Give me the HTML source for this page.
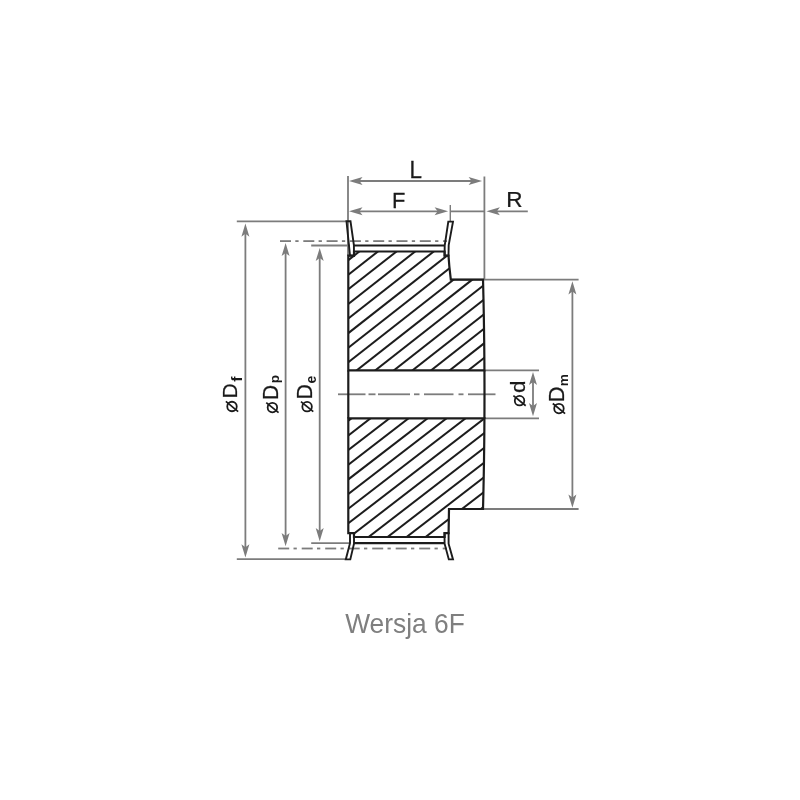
<!DOCTYPE html>
<html><head><meta charset="utf-8"><style>
html,body{margin:0;padding:0;background:#fff;}
svg{display:block;}
.wrap{will-change:transform;width:800px;height:800px;}
text{font-family:"Liberation Sans",sans-serif;}
</style></head><body><div class="wrap">
<svg width="800" height="800" viewBox="0 0 800 800">
<rect width="800" height="800" fill="#fff"/>
<line x1="348" y1="176" x2="348" y2="256" stroke="#7c7c7c" stroke-width="1.8"/>
<line x1="484.4" y1="176.5" x2="484.4" y2="280" stroke="#7c7c7c" stroke-width="1.8"/>
<line x1="356" y1="181" x2="475" y2="181" stroke="#7c7c7c" stroke-width="1.8"/>
<polygon points="349.00,181.00 362.50,177.00 359.50,181.00 362.50,185.00" fill="#7c7c7c"/>
<polygon points="482.10,181.00 468.60,185.00 471.60,181.00 468.60,177.00" fill="#7c7c7c"/>
<line x1="356" y1="211.3" x2="441" y2="211.3" stroke="#7c7c7c" stroke-width="1.8"/>
<polygon points="349.00,211.30 362.50,207.30 359.50,211.30 362.50,215.30" fill="#7c7c7c"/>
<polygon points="448.10,211.30 434.60,215.30 437.60,211.30 434.60,207.30" fill="#7c7c7c"/>
<line x1="450.3" y1="205" x2="450.3" y2="221" stroke="#7c7c7c" stroke-width="1.4"/>
<line x1="450.3" y1="211.3" x2="484.4" y2="211.3" stroke="#7c7c7c" stroke-width="1.8"/>
<line x1="494" y1="211.3" x2="527.8" y2="211.3" stroke="#7c7c7c" stroke-width="1.8"/>
<polygon points="486.40,211.30 499.90,207.30 496.90,211.30 499.90,215.30" fill="#7c7c7c"/>
<line x1="236.8" y1="221.3" x2="346.5" y2="221.3" stroke="#7c7c7c" stroke-width="1.8"/>
<line x1="311.2" y1="245.5" x2="350" y2="245.5" stroke="#7c7c7c" stroke-width="1.8"/>
<line x1="236.8" y1="559.2" x2="346" y2="559.2" stroke="#7c7c7c" stroke-width="1.8"/>
<line x1="311.2" y1="543.1" x2="350" y2="543.1" stroke="#7c7c7c" stroke-width="1.8"/>
<line x1="245.4" y1="229.60000000000002" x2="245.4" y2="551.5" stroke="#7c7c7c" stroke-width="1.8"/>
<polygon points="245.40,223.60 249.40,236.80 245.40,233.80 241.40,236.80" fill="#7c7c7c"/>
<polygon points="245.40,557.50 241.40,544.30 245.40,547.30 249.40,544.30" fill="#7c7c7c"/>
<line x1="285.6" y1="248.9" x2="285.6" y2="540.3000000000001" stroke="#7c7c7c" stroke-width="1.8"/>
<polygon points="285.60,242.90 289.60,256.10 285.60,253.10 281.60,256.10" fill="#7c7c7c"/>
<polygon points="285.60,546.30 281.60,533.10 285.60,536.10 289.60,533.10" fill="#7c7c7c"/>
<line x1="319.7" y1="253.9" x2="319.7" y2="535.3000000000001" stroke="#7c7c7c" stroke-width="1.8"/>
<polygon points="319.70,247.90 323.70,261.10 319.70,258.10 315.70,261.10" fill="#7c7c7c"/>
<polygon points="319.70,541.30 315.70,528.10 319.70,531.10 323.70,528.10" fill="#7c7c7c"/>
<line x1="280" y1="241.1" x2="291" y2="241.1" stroke="#7c7c7c" stroke-width="1.8"/>
<line x1="295.3" y1="241.1" x2="298.6" y2="241.1" stroke="#7c7c7c" stroke-width="1.8"/>
<line x1="303.3" y1="241.1" x2="314.3" y2="241.1" stroke="#7c7c7c" stroke-width="1.8"/>
<line x1="318.6" y1="241.1" x2="321.90000000000003" y2="241.1" stroke="#7c7c7c" stroke-width="1.8"/>
<line x1="326.6" y1="241.1" x2="337.6" y2="241.1" stroke="#7c7c7c" stroke-width="1.8"/>
<line x1="341.90000000000003" y1="241.1" x2="345.20000000000005" y2="241.1" stroke="#7c7c7c" stroke-width="1.8"/>
<line x1="349.90000000000003" y1="241.1" x2="360.90000000000003" y2="241.1" stroke="#7c7c7c" stroke-width="1.8"/>
<line x1="365.20000000000005" y1="241.1" x2="368.50000000000006" y2="241.1" stroke="#7c7c7c" stroke-width="1.8"/>
<line x1="373.20000000000005" y1="241.1" x2="384.20000000000005" y2="241.1" stroke="#7c7c7c" stroke-width="1.8"/>
<line x1="388.50000000000006" y1="241.1" x2="391.80000000000007" y2="241.1" stroke="#7c7c7c" stroke-width="1.8"/>
<line x1="396.50000000000006" y1="241.1" x2="407.50000000000006" y2="241.1" stroke="#7c7c7c" stroke-width="1.8"/>
<line x1="411.80000000000007" y1="241.1" x2="415.1000000000001" y2="241.1" stroke="#7c7c7c" stroke-width="1.8"/>
<line x1="419.80000000000007" y1="241.1" x2="430.80000000000007" y2="241.1" stroke="#7c7c7c" stroke-width="1.8"/>
<line x1="435.1000000000001" y1="241.1" x2="438.4000000000001" y2="241.1" stroke="#7c7c7c" stroke-width="1.8"/>
<line x1="443.1000000000001" y1="241.1" x2="447" y2="241.1" stroke="#7c7c7c" stroke-width="1.8"/>
<line x1="278.2" y1="548.5" x2="289.2" y2="548.5" stroke="#7c7c7c" stroke-width="1.8"/>
<line x1="293.5" y1="548.5" x2="296.8" y2="548.5" stroke="#7c7c7c" stroke-width="1.8"/>
<line x1="301.7" y1="548.5" x2="312.7" y2="548.5" stroke="#7c7c7c" stroke-width="1.8"/>
<line x1="317.0" y1="548.5" x2="320.3" y2="548.5" stroke="#7c7c7c" stroke-width="1.8"/>
<line x1="325.2" y1="548.5" x2="336.2" y2="548.5" stroke="#7c7c7c" stroke-width="1.8"/>
<line x1="340.5" y1="548.5" x2="343.8" y2="548.5" stroke="#7c7c7c" stroke-width="1.8"/>
<line x1="348.7" y1="548.5" x2="359.7" y2="548.5" stroke="#7c7c7c" stroke-width="1.8"/>
<line x1="364.0" y1="548.5" x2="367.3" y2="548.5" stroke="#7c7c7c" stroke-width="1.8"/>
<line x1="372.2" y1="548.5" x2="383.2" y2="548.5" stroke="#7c7c7c" stroke-width="1.8"/>
<line x1="387.5" y1="548.5" x2="390.8" y2="548.5" stroke="#7c7c7c" stroke-width="1.8"/>
<line x1="395.7" y1="548.5" x2="406.7" y2="548.5" stroke="#7c7c7c" stroke-width="1.8"/>
<line x1="411.0" y1="548.5" x2="414.3" y2="548.5" stroke="#7c7c7c" stroke-width="1.8"/>
<line x1="419.2" y1="548.5" x2="430.2" y2="548.5" stroke="#7c7c7c" stroke-width="1.8"/>
<line x1="434.5" y1="548.5" x2="437.8" y2="548.5" stroke="#7c7c7c" stroke-width="1.8"/>
<line x1="442.7" y1="548.5" x2="447" y2="548.5" stroke="#7c7c7c" stroke-width="1.8"/>
<line x1="338" y1="394.3" x2="365.5" y2="394.3" stroke="#7c7c7c" stroke-width="1.8"/>
<line x1="368.5" y1="394.3" x2="375.5" y2="394.3" stroke="#7c7c7c" stroke-width="1.8"/>
<line x1="378" y1="394.3" x2="410" y2="394.3" stroke="#7c7c7c" stroke-width="1.8"/>
<line x1="414" y1="394.3" x2="419.5" y2="394.3" stroke="#7c7c7c" stroke-width="1.8"/>
<line x1="424" y1="394.3" x2="453.5" y2="394.3" stroke="#7c7c7c" stroke-width="1.8"/>
<line x1="458.5" y1="394.3" x2="463.5" y2="394.3" stroke="#7c7c7c" stroke-width="1.8"/>
<line x1="468" y1="394.3" x2="495.5" y2="394.3" stroke="#7c7c7c" stroke-width="1.8"/>
<line x1="451" y1="279.7" x2="578.6" y2="279.7" stroke="#7c7c7c" stroke-width="1.8"/>
<line x1="483" y1="509" x2="578.6" y2="509" stroke="#7c7c7c" stroke-width="1.8"/>
<line x1="572.4" y1="287.3" x2="572.4" y2="501.7" stroke="#7c7c7c" stroke-width="1.8"/>
<polygon points="572.40,281.30 576.40,294.50 572.40,291.50 568.40,294.50" fill="#7c7c7c"/>
<polygon points="572.40,507.70 568.40,494.50 572.40,497.50 576.40,494.50" fill="#7c7c7c"/>
<line x1="484" y1="370.3" x2="539" y2="370.3" stroke="#7c7c7c" stroke-width="1.8"/>
<line x1="484" y1="418.4" x2="539" y2="418.4" stroke="#7c7c7c" stroke-width="1.8"/>
<line x1="533" y1="377.90000000000003" x2="533" y2="410.3" stroke="#7c7c7c" stroke-width="1.8"/>
<polygon points="533.00,371.90 537.00,385.10 533.00,382.10 529.00,385.10" fill="#7c7c7c"/>
<polygon points="533.00,416.30 529.00,403.10 533.00,406.10 537.00,403.10" fill="#7c7c7c"/>
<defs><clipPath id="ct"><polygon points="348.3,255.6 354,255.6 354,251.5 444.6,251.5 444.6,255.6 448.5,255.6 449.3,266 450.8,279.7 483.02,279.7 483.21,287.26 483.38,294.82 483.55,302.38 483.7,309.93 483.84,317.49 483.96,325.05 484.07,332.61 484.17,340.17 484.26,347.72 484.33,355.28 484.39,362.84 484.44,370.4 348.3,370.4"/></clipPath><clipPath id="cb"><polygon points="348.3,418.4 484.43,418.4 484.38,425.95 484.32,433.5 484.25,441.05 484.16,448.6 484.06,456.15 483.95,463.7 483.82,471.25 483.68,478.8 483.53,486.35 483.37,493.9 483.19,501.45 483.0,509.0 449,509 448.6,533.1 444.6,533.1 444.6,537 354,537 354,533.1 348.3,533.1"/></clipPath></defs>
<g stroke="#1c1c1c" stroke-width="2.0" clip-path="url(#ct)"><line x1="340" y1="222.87" x2="500" y2="97.27"/><line x1="340" y1="237.47" x2="500" y2="111.87"/><line x1="340" y1="252.07" x2="500" y2="126.47"/><line x1="340" y1="266.67" x2="500" y2="141.07"/><line x1="340" y1="281.27" x2="500" y2="155.67"/><line x1="340" y1="295.87" x2="500" y2="170.27"/><line x1="340" y1="310.47" x2="500" y2="184.87"/><line x1="340" y1="325.07" x2="500" y2="199.47"/><line x1="340" y1="339.67" x2="500" y2="214.07"/><line x1="340" y1="354.27" x2="500" y2="228.67"/><line x1="340" y1="368.87" x2="500" y2="243.27"/><line x1="340" y1="383.47" x2="500" y2="257.87"/><line x1="340" y1="398.07" x2="500" y2="272.47"/><line x1="340" y1="412.67" x2="500" y2="287.07"/><line x1="340" y1="427.27" x2="500" y2="301.67"/><line x1="340" y1="441.87" x2="500" y2="316.27"/><line x1="340" y1="456.47" x2="500" y2="330.87"/><line x1="340" y1="471.07" x2="500" y2="345.47"/><line x1="340" y1="485.67" x2="500" y2="360.07"/><line x1="340" y1="500.27" x2="500" y2="374.67"/><line x1="340" y1="514.87" x2="500" y2="389.27"/><line x1="340" y1="529.47" x2="500" y2="403.87"/><line x1="340" y1="544.07" x2="500" y2="418.47"/><line x1="340" y1="558.67" x2="500" y2="433.07"/><line x1="340" y1="573.27" x2="500" y2="447.67"/><line x1="340" y1="587.87" x2="500" y2="462.27"/><line x1="340" y1="602.47" x2="500" y2="476.87"/><line x1="340" y1="617.07" x2="500" y2="491.47"/><line x1="340" y1="631.67" x2="500" y2="506.07"/><line x1="340" y1="646.27" x2="500" y2="520.67"/><line x1="340" y1="660.87" x2="500" y2="535.27"/><line x1="340" y1="675.47" x2="500" y2="549.87"/><line x1="340" y1="690.07" x2="500" y2="564.47"/><line x1="340" y1="704.67" x2="500" y2="579.07"/><line x1="340" y1="719.27" x2="500" y2="593.67"/><line x1="340" y1="733.87" x2="500" y2="608.27"/><line x1="340" y1="748.47" x2="500" y2="622.87"/><line x1="340" y1="763.07" x2="500" y2="637.47"/><line x1="340" y1="777.67" x2="500" y2="652.07"/><line x1="340" y1="792.27" x2="500" y2="666.67"/><line x1="340" y1="806.87" x2="500" y2="681.27"/><line x1="340" y1="821.47" x2="500" y2="695.87"/><line x1="340" y1="836.07" x2="500" y2="710.47"/><line x1="340" y1="850.67" x2="500" y2="725.07"/><line x1="340" y1="865.27" x2="500" y2="739.67"/><line x1="340" y1="879.87" x2="500" y2="754.27"/><line x1="340" y1="894.47" x2="500" y2="768.87"/><line x1="340" y1="909.07" x2="500" y2="783.47"/></g>
<g stroke="#1c1c1c" stroke-width="2.0" clip-path="url(#cb)"><line x1="340" y1="222.10" x2="500" y2="98.74"/><line x1="340" y1="236.75" x2="500" y2="113.39"/><line x1="340" y1="251.40" x2="500" y2="128.04"/><line x1="340" y1="266.05" x2="500" y2="142.69"/><line x1="340" y1="280.70" x2="500" y2="157.34"/><line x1="340" y1="295.35" x2="500" y2="171.99"/><line x1="340" y1="310.00" x2="500" y2="186.64"/><line x1="340" y1="324.65" x2="500" y2="201.29"/><line x1="340" y1="339.30" x2="500" y2="215.94"/><line x1="340" y1="353.95" x2="500" y2="230.59"/><line x1="340" y1="368.60" x2="500" y2="245.24"/><line x1="340" y1="383.25" x2="500" y2="259.89"/><line x1="340" y1="397.90" x2="500" y2="274.54"/><line x1="340" y1="412.55" x2="500" y2="289.19"/><line x1="340" y1="427.20" x2="500" y2="303.84"/><line x1="340" y1="441.85" x2="500" y2="318.49"/><line x1="340" y1="456.50" x2="500" y2="333.14"/><line x1="340" y1="471.15" x2="500" y2="347.79"/><line x1="340" y1="485.80" x2="500" y2="362.44"/><line x1="340" y1="500.45" x2="500" y2="377.09"/><line x1="340" y1="515.10" x2="500" y2="391.74"/><line x1="340" y1="529.75" x2="500" y2="406.39"/><line x1="340" y1="544.40" x2="500" y2="421.04"/><line x1="340" y1="559.05" x2="500" y2="435.69"/><line x1="340" y1="573.70" x2="500" y2="450.34"/><line x1="340" y1="588.35" x2="500" y2="464.99"/><line x1="340" y1="603.00" x2="500" y2="479.64"/><line x1="340" y1="617.65" x2="500" y2="494.29"/><line x1="340" y1="632.30" x2="500" y2="508.94"/><line x1="340" y1="646.95" x2="500" y2="523.59"/><line x1="340" y1="661.60" x2="500" y2="538.24"/><line x1="340" y1="676.25" x2="500" y2="552.89"/><line x1="340" y1="690.90" x2="500" y2="567.54"/><line x1="340" y1="705.55" x2="500" y2="582.19"/><line x1="340" y1="720.20" x2="500" y2="596.84"/><line x1="340" y1="734.85" x2="500" y2="611.49"/><line x1="340" y1="749.50" x2="500" y2="626.14"/><line x1="340" y1="764.15" x2="500" y2="640.79"/><line x1="340" y1="778.80" x2="500" y2="655.44"/><line x1="340" y1="793.45" x2="500" y2="670.09"/><line x1="340" y1="808.10" x2="500" y2="684.74"/><line x1="340" y1="822.75" x2="500" y2="699.39"/><line x1="340" y1="837.40" x2="500" y2="714.04"/><line x1="340" y1="852.05" x2="500" y2="728.69"/><line x1="340" y1="866.70" x2="500" y2="743.34"/><line x1="340" y1="881.35" x2="500" y2="757.99"/><line x1="340" y1="896.00" x2="500" y2="772.64"/><line x1="340" y1="910.65" x2="500" y2="787.29"/></g>
<polygon points="348.3,255.6 354,255.6 354,251.5 444.6,251.5 444.6,255.6 448.5,255.6 449.3,266 450.8,279.7 483.02,279.7 483.21,287.26 483.38,294.82 483.55,302.38 483.7,309.93 483.84,317.49 483.96,325.05 484.07,332.61 484.17,340.17 484.26,347.72 484.33,355.28 484.39,362.84 484.44,370.4 348.3,370.4" fill="none" stroke="#1c1c1c" stroke-width="2.2" stroke-linejoin="miter"/>
<polygon points="348.3,418.4 484.43,418.4 484.38,425.95 484.32,433.5 484.25,441.05 484.16,448.6 484.06,456.15 483.95,463.7 483.82,471.25 483.68,478.8 483.53,486.35 483.37,493.9 483.19,501.45 483.0,509.0 449,509 448.6,533.1 444.6,533.1 444.6,537 354,537 354,533.1 348.3,533.1" fill="none" stroke="#1c1c1c" stroke-width="2.2" stroke-linejoin="miter"/>
<line x1="348.3" y1="370.4" x2="348.3" y2="418.4" stroke="#1c1c1c" stroke-width="2.2"/>
<polyline points="484.44,370.4 484.48,382.4 484.5,394.4 484.48,406.4 484.43,418.4" fill="none" stroke="#1c1c1c" stroke-width="2.2" stroke-linejoin="miter"/>
<line x1="354" y1="245.5" x2="444.6" y2="245.5" stroke="#1c1c1c" stroke-width="2.2"/>
<line x1="354" y1="543.1" x2="444.6" y2="543.1" stroke="#1c1c1c" stroke-width="2.2"/>
<polygon points="346.5,221.3 350.5,221.3 353.9,245 354,255.6 350,255.6" fill="none" stroke="#1c1c1c" stroke-width="1.9" stroke-linejoin="miter"/>
<polygon points="448.3,221.6 453.0,221.6 448.7,245 448.5,255.6 444.6,255.6 444.7,245.5" fill="none" stroke="#1c1c1c" stroke-width="1.9" stroke-linejoin="miter"/>
<polygon points="350,533.1 354,533.1 354,543.6 350.3,559.4 345.8,559.4 350,543.2" fill="none" stroke="#1c1c1c" stroke-width="1.9" stroke-linejoin="miter"/>
<polygon points="444.5,533.1 448.6,533.1 448.6,543.7 453.0,559.4 448.8,559.4 444.6,543.7" fill="none" stroke="#1c1c1c" stroke-width="1.9" stroke-linejoin="miter"/>
<text transform="translate(409.46,177.95) scale(0.2245,0.2347)" font-size="100" fill="#1a1a1a" stroke="#1a1a1a" stroke-width="1.09">L</text>
<text transform="translate(391.90,208.30) scale(0.2189,0.2224)" font-size="100" fill="#1a1a1a" stroke="#1a1a1a" stroke-width="1.13">F</text>
<text transform="translate(506.35,207.45) scale(0.2257,0.2231)" font-size="100" fill="#1a1a1a" stroke="#1a1a1a" stroke-width="1.11">R</text>
<text transform="translate(236.85,398.42) rotate(-90) scale(0.2094,0.2079)" font-size="100" fill="#1a1a1a" stroke="#1a1a1a" stroke-width="1.20">D</text>
<text transform="translate(241.70,381.77) rotate(-90) scale(0.1573,0.1401)" font-size="100" fill="#1a1a1a" font-weight="bold">f</text>
<text transform="translate(277.70,400.11) rotate(-90) scale(0.2085,0.2122)" font-size="100" fill="#1a1a1a" stroke="#1a1a1a" stroke-width="1.19">D</text>
<text transform="translate(279.48,383.23) rotate(-90) scale(0.1340,0.1312)" font-size="100" fill="#1a1a1a" font-weight="bold">p</text>
<text transform="translate(312.40,399.55) rotate(-90) scale(0.2127,0.2166)" font-size="100" fill="#1a1a1a" stroke="#1a1a1a" stroke-width="1.16">D</text>
<text transform="translate(316.16,383.44) rotate(-90) scale(0.1387,0.1479)" font-size="100" fill="#1a1a1a" font-weight="bold">e</text>
<text transform="translate(525.10,392.94) rotate(-90) scale(0.2246,0.2070)" font-size="100" fill="#1a1a1a" stroke="#1a1a1a" stroke-width="1.16">d</text>
<text transform="translate(564.40,402.14) rotate(-90) scale(0.2178,0.2166)" font-size="100" fill="#1a1a1a" stroke="#1a1a1a" stroke-width="1.15">D</text>
<text transform="translate(567.76,386.35) rotate(-90) scale(0.1360,0.1246)" font-size="100" fill="#1a1a1a" font-weight="bold">m</text>
<circle cx="232.0" cy="406.5" r="4.75" fill="none" stroke="#1a1a1a" stroke-width="1.8"/>
<line x1="225.85" y1="401.45" x2="238.15" y2="411.55" stroke="#1a1a1a" stroke-width="1.7"/>
<circle cx="272.4" cy="407.6" r="4.75" fill="none" stroke="#1a1a1a" stroke-width="1.8"/>
<line x1="266.25" y1="402.55" x2="278.55" y2="412.65" stroke="#1a1a1a" stroke-width="1.7"/>
<circle cx="307.1" cy="406.65" r="4.75" fill="none" stroke="#1a1a1a" stroke-width="1.8"/>
<line x1="300.95" y1="401.60" x2="313.25" y2="411.70" stroke="#1a1a1a" stroke-width="1.7"/>
<circle cx="519.55" cy="400.7" r="4.75" fill="none" stroke="#1a1a1a" stroke-width="1.8"/>
<line x1="513.40" y1="395.65" x2="525.70" y2="405.75" stroke="#1a1a1a" stroke-width="1.7"/>
<circle cx="558.95" cy="408.55" r="4.75" fill="none" stroke="#1a1a1a" stroke-width="1.8"/>
<line x1="552.80" y1="403.50" x2="565.10" y2="413.60" stroke="#1a1a1a" stroke-width="1.7"/>
<text transform="translate(345.13,632.65) scale(1,1.035)" font-size="26.4" fill="#7f7f7f">Wersja 6F</text>
</svg></div>
</body></html>
